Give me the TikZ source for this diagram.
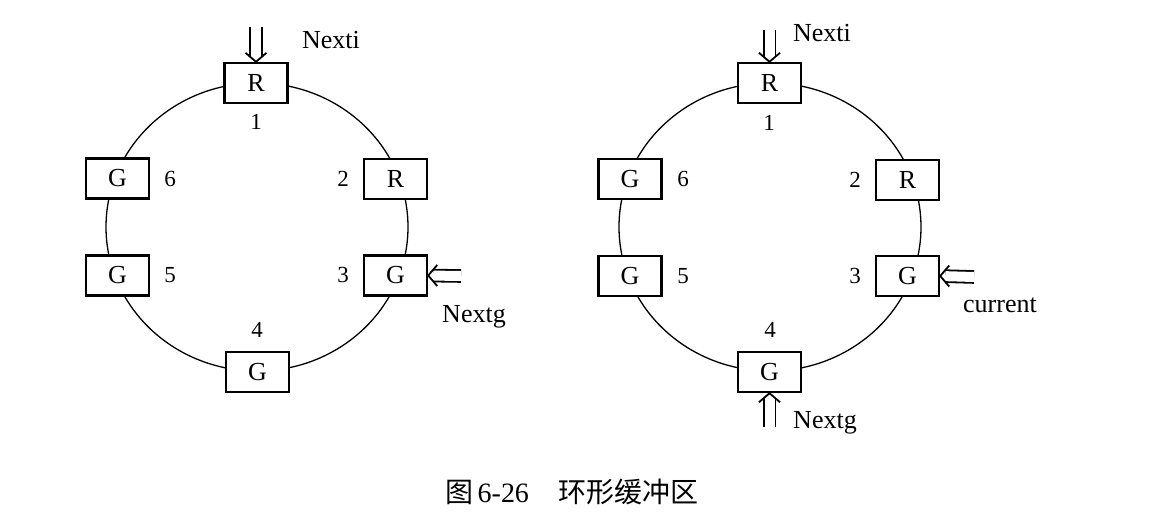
\documentclass[tikz,border=0pt]{standalone}
\usepackage{fontspec}
\setmainfont{Liberation Serif}
\newfontfamily\cjk{Noto Sans CJK SC}
\usetikzlibrary{calc}
\tikzset{
  ring/.style={line width=1.3pt, draw=black},
  cell/.style={draw=black, fill=white, line width=2.4pt, minimum width=63pt, minimum height=40pt, inner sep=0pt, font=\fontsize{26}{28}\selectfont},
  num/.style={inner sep=0pt, font=\fontsize{23}{26}\selectfont},
  ptr/.style={inner sep=0pt, font=\fontsize{26}{28}\selectfont},
  dblshaft/.style={draw=black, double=white, double distance=10pt, line width=1.8pt, shorten >=5pt},
  dblhead/.style={draw=black, line width=1.8pt, line join=miter, miter limit=10},
}
\begin{document}
\begin{tikzpicture}[x=1pt, y=-1pt]
\useasboundingbox[fill=white] (0,0) rectangle (1168,524);

% ---- left ring ----
\draw[ring] (257,227) ellipse [x radius=151, y radius=144];
\node[cell] (L1) at (256,83) {R};
\node[cell] (L2) at (395.5,179) {R};
\node[cell] (L3) at (395.5,275.5) {G};
\node[cell] (L4) at (257.5,372) {G};
\node[cell] (L5) at (117.5,275.5) {G};
\node[cell] (L6) at (117.5,178.5) {G};
\node[num] (Ln1) at (256,122) {1};
\node[num] (Ln2) at (343,179) {2};
\node[num] (Ln3) at (343,275) {3};
\node[num] (Ln4) at (257,330) {4};
\node[num] (Ln5) at (170,275) {5};
\node[num] (Ln6) at (170,179) {6};
\coordinate (LiA) at (256,27);
\draw[dblshaft] (LiA) -- (L1.north);
\draw[dblhead] ($(L1.north)+(-10.5,-9)$) -- (L1.north) -- ($(L1.north)+(10.5,-9)$);
\node[ptr] (Lnexti) at (331,40) {Nexti};
\coordinate (LgA) at (461,276);
\draw[dblshaft] (LgA) -- (L3.east);
\draw[dblhead] ($(L3.east)+(9,-10.5)$) -- (L3.east) -- ($(L3.east)+(9,10.5)$);
\node[ptr] (Lnextg) at (474,317) {Nextg};

% ---- right ring ----
\draw[ring] (770,227) ellipse [x radius=151, y radius=144];
\node[cell] (R1) at (769.5,83) {R};
\node[cell] (R2) at (907.5,180) {R};
\node[cell] (R3) at (907.5,276) {G};
\node[cell] (R4) at (769.5,372) {G};
\node[cell] (R5) at (630,276) {G};
\node[cell] (R6) at (630,179) {G};
\node[num] (Rn1) at (769,123) {1};
\node[num] (Rn2) at (855,180) {2};
\node[num] (Rn3) at (855,276) {3};
\node[num] (Rn4) at (770,330) {4};
\node[num] (Rn5) at (683,276) {5};
\node[num] (Rn6) at (683,179) {6};
\coordinate (RiA) at (769.5,30);
\draw[dblshaft] (RiA) -- (R1.north);
\draw[dblhead] ($(R1.north)+(-10.5,-9)$) -- (R1.north) -- ($(R1.north)+(10.5,-9)$);
\node[ptr] (Rnexti) at (822,33) {Nexti};
\coordinate (RcA) at (974,277);
\draw[dblshaft] (RcA) -- (R3.east);
\draw[dblhead] ($(R3.east)+(9,-10.5)$) -- (R3.east) -- ($(R3.east)+(9,10.5)$);
\node[ptr] (Rcur) at (1000,305) {current};
\coordinate (RgA) at (769.5,427);
\draw[dblshaft] (RgA) -- (R4.south);
\draw[dblhead] ($(R4.south)+(-10.5,9)$) -- (R4.south) -- ($(R4.south)+(10.5,9)$);
\node[ptr] (Rnextg) at (825,423) {Nextg};

% ---- caption ----
\node[inner sep=0pt, font=\fontsize{28}{32}\selectfont] (cap) at (572,492) {{\cjk 图}\,6-26\hspace{30pt}{\cjk 环形缓冲区}};
\end{tikzpicture}
\end{document}
